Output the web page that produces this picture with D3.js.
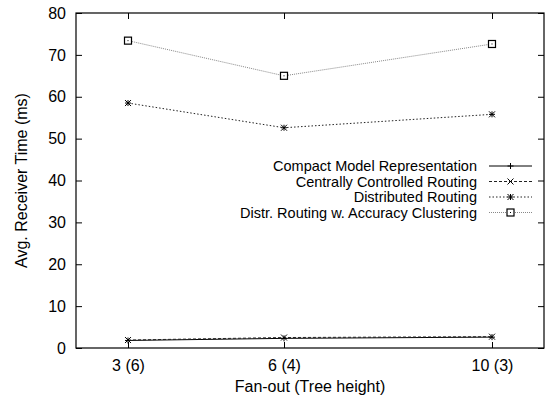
<!DOCTYPE html>
<html>
<head>
<meta charset="utf-8">
<script src="https://cdn.jsdelivr.net/npm/d3@7"></script>
<style>
body { margin: 0; background: #fff; }
text { font-family: "Liberation Sans", Arial, sans-serif; font-size: 16px; fill: #000; }
</style>
</head>
<body>
<svg id="chart" width="548" height="403" viewBox="0 0 548 403"></svg>
<script>
// fan-out values and tick labels
var fanout = [3, 6, 10];
var tickLabels = ["3 (6)", "6 (4)", "10 (3)"];
var yTicks = [0, 10, 20, 30, 40, 50, 60, 70, 80];

var seriesNames = [
	"Compact Model Representation",
	"Centrally Controlled Routing",
	"Distributed Routing",
	"Distr. Routing w. Accuracy Clustering"
];
var compactVals = [1.8, 2.3, 2.6];
var centralVals = [1.9, 2.5, 2.7];
var distribVals = [58.5, 52.6, 55.8];
var accuracyVals = [73.4, 65.0, 72.6];

// note: "top" clashes with window.top, so keep margins in an object
var margin = { top: 13, right: 4, bottom: 55, left: 76 };
var svg = d3.select("#chart");
var W = 548, H = 403;
var width = W - margin.left - margin.right;
var height = H - margin.top - margin.bottom;

var xScale = d3.scaleLinear().domain([2, 11]).range([0, width]);
var yScale = d3.scaleLinear().domain([0, 80]).range([height, 0]);

var g = svg.append("g").attr("transform", "translate(" + margin.left + "," + margin.top + ")");

// axes: ticks inside, mirrored on top/right like gnuplot
var yAxis = d3.axisLeft(yScale).tickValues(yTicks).tickSize(-6).tickPadding(10);
var yAxisR = d3.axisRight(yScale).tickValues(yTicks).tickSize(-6).tickFormat("");
var xAxis = d3.axisBottom(xScale).tickValues(fanout).tickSize(-6).tickPadding(12)
	.tickFormat(function (d, i) { return tickLabels[i]; });
var xAxisT = d3.axisTop(xScale).tickValues(fanout).tickSize(-6).tickFormat("");

g.append("g").attr("class", "y axis").call(yAxis);
g.append("g").attr("transform", "translate(" + width + ",0)").call(yAxisR);
g.append("g").attr("class", "x axis").attr("transform", "translate(0," + height + ")").call(xAxis);
g.append("g").call(xAxisT);

g.selectAll(".domain").remove();
g.selectAll(".tick line").attr("stroke", "#000").attr("stroke-width", 1);
g.selectAll(".tick text").style("font-size", "16px").attr("fill", "#000")
	.style("font-family", "'Liberation Sans', Arial, sans-serif");

g.append("rect")
	.attr("x", 0).attr("y", 0)
	.attr("width", width).attr("height", height)
	.attr("fill", "none").attr("stroke", "#000").attr("stroke-width", 1.2);

// axis titles
svg.append("text")
	.attr("transform", "translate(21," + (margin.top + height / 2) + ") rotate(-90)")
	.attr("text-anchor", "middle")
	.attr("dy", "0.35em")
	.text("Avg. Receiver Time (ms)");
svg.append("text")
	.attr("x", margin.left + width / 2)
	.attr("y", 392)
	.attr("text-anchor", "middle")
	.text("Fan-out (Tree height)");

var series = [
	{ name: seriesNames[0], vals: compactVals, color: "#000", dash: null, mark: "plus" },
	{ name: seriesNames[1], vals: centralVals, color: "#222", dash: "3,2", mark: "cross" },
	{ name: seriesNames[2], vals: distribVals, color: "#222", dash: "1.5,2", mark: "star" },
	{ name: seriesNames[3], vals: accuracyVals, color: "#888", dash: "1,1", mark: "box" }
];

function drawMark(sel, type, x, y, color) {
	var s = 3;
	if (type === "plus" || type === "star") {
		sel.append("path").attr("d", "M" + (x - s) + "," + y + "H" + (x + s) + "M" + x + "," + (y - s) + "V" + (y + s))
			.attr("stroke", "#000").attr("stroke-width", 1);
	}
	if (type === "cross" || type === "star") {
		sel.append("path").attr("d", "M" + (x - s) + "," + (y - s) + "L" + (x + s) + "," + (y + s) +
			"M" + (x - s) + "," + (y + s) + "L" + (x + s) + "," + (y - s))
			.attr("stroke", "#000").attr("stroke-width", 1);
	}
	if (type === "box") {
		sel.append("rect").attr("x", x - 3.5).attr("y", y - 3.5).attr("width", 7).attr("height", 7)
			.attr("fill", "#fff").attr("stroke", "#000").attr("stroke-width", 1.2);
		sel.append("rect").attr("x", x - 0.5).attr("y", y - 0.5).attr("width", 1).attr("height", 1).attr("fill", "#000");
	}
}

var linePath = d3.line()
	.x(function (d, i) { return xScale(fanout[i]); })
	.y(function (d) { return yScale(d); });

series.forEach(function (s) {
	g.append("path")
		.attr("d", linePath(s.vals))
		.attr("fill", "none")
		.attr("stroke", s.color)
		.attr("stroke-width", 1)
		.attr("stroke-dasharray", s.dash);
	var mg = g.append("g");
	s.vals.forEach(function (v, i) {
		drawMark(mg, s.mark, xScale(fanout[i]), yScale(v), s.color);
	});
});

// legend
var legend = svg.append("g");
series.forEach(function (s, i) {
	var y = 166 + i * 15.5;
	legend.append("text")
		.attr("x", 477).attr("y", y).attr("dy", "0.35em")
		.attr("text-anchor", "end")
		.style("font-size", "14.5px")
		.text(s.name);
	legend.append("path")
		.attr("d", "M489," + y + "H532")
		.attr("stroke", s.color).attr("stroke-width", 1)
		.attr("stroke-dasharray", s.dash);
	drawMark(legend, s.mark, 510.5, y, s.color);
});
</script>
</body>
</html>
